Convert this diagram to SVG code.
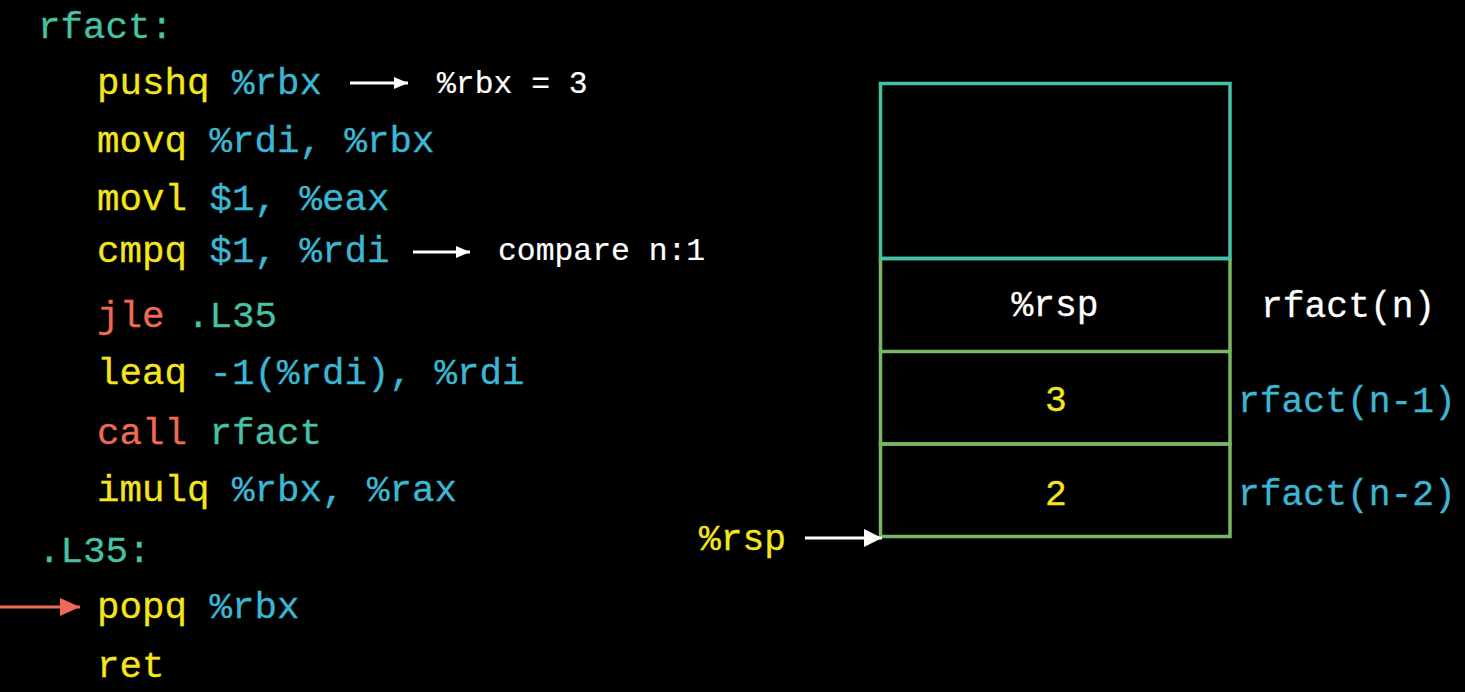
<svg xmlns="http://www.w3.org/2000/svg" width="1465" height="692" viewBox="0 0 1465 692">
  <style>
    .mono { font-family: "Liberation Mono", "DejaVu Sans Mono", monospace; }
    .code { font-size: 37.5px; stroke-width: 0.3px; }
    .note { font-size: 31.4px; stroke-width: 0.2px; }
    .cell { font-size: 36.3px; stroke-width: 0.3px; }
    .yel { fill: #f4e61c; stroke: #f4e61c; }
    .blu { fill: #3db6d3; stroke: #3db6d3; }
    .tea { fill: #48c1a4; stroke: #48c1a4; }
    .red { fill: #ee6a56; stroke: #ee6a56; }
    .wht { fill: #ffffff; stroke: #ffffff; }
    .frame-top { fill: none; stroke: #46c1a6; stroke-width: 3.5; }
    .frame { fill: none; stroke: #78b763; stroke-width: 3.5; }
    .arrow-w { stroke: #ffffff; stroke-width: 2.8; fill: none; }
    .arrow-r { stroke: #ee6a56; stroke-width: 3; fill: none; }
  </style>
  <defs>
    <marker id="head-small" markerUnits="userSpaceOnUse" viewBox="0 0 14 12" refX="14" refY="6" markerWidth="14" markerHeight="12" orient="auto">
      <path d="M0,0 L14,6 L0,12 Z" fill="#ffffff"/>
    </marker>
    <marker id="head-large" markerUnits="userSpaceOnUse" viewBox="0 0 18 18" refX="18" refY="9" markerWidth="18" markerHeight="18" orient="auto">
      <path d="M0,0 L18,9 L0,18 Z" fill="#ffffff"/>
    </marker>
    <marker id="head-red" markerUnits="userSpaceOnUse" viewBox="0 0 20 18" refX="20" refY="9" markerWidth="20" markerHeight="18" orient="auto">
      <path d="M0,0 L20,9 L0,18 Z" fill="#ee6a56"/>
    </marker>
  </defs>

  <rect x="0" y="0" width="1465" height="692" fill="#000000"/>

  <!-- assembly listing of rfact -->
  <g id="code" class="mono code">
    <text x="38" y="38" class="tea">rfact:</text>
    <text x="97" y="94"><tspan class="yel">pushq</tspan> <tspan class="blu">%rbx</tspan></text>
    <text x="97" y="152"><tspan class="yel">movq</tspan> <tspan class="blu">%rdi, %rbx</tspan></text>
    <text x="97" y="210"><tspan class="yel">movl</tspan> <tspan class="blu">$1, %eax</tspan></text>
    <text x="97" y="262"><tspan class="yel">cmpq</tspan> <tspan class="blu">$1, %rdi</tspan></text>
    <text x="97" y="327"><tspan class="red">jle</tspan> <tspan class="tea">.L35</tspan></text>
    <text x="97" y="384"><tspan class="yel">leaq</tspan> <tspan class="blu">-1(%rdi), %rdi</tspan></text>
    <text x="97" y="444"><tspan class="red">call</tspan> <tspan class="tea">rfact</tspan></text>
    <text x="97" y="501"><tspan class="yel">imulq</tspan> <tspan class="blu">%rbx, %rax</tspan></text>
    <text x="38" y="562" class="tea">.L35:</text>
    <text x="97" y="618"><tspan class="yel">popq</tspan> <tspan class="blu">%rbx</tspan></text>
    <text x="97" y="677" class="yel">ret</text>
  </g>

  <!-- side notes -->
  <g id="note-rbx" class="mono note wht">
    <text x="437" y="93">%rbx = 3</text>
  </g>
  <g id="note-compare" class="mono note wht">
    <text x="498" y="260">compare n:1</text>
  </g>

  <!-- stack frames -->
  <g id="stack-top">
    <rect x="880.5" y="83.5" width="349.5" height="175" class="frame-top"/>
  </g>
  <g id="stack-rsp">
    <path d="M880.5,258.5 V351.5 M1230,258.5 V351.5" class="frame"/>
    <text x="1055" y="316" text-anchor="middle" class="mono cell wht">%rsp</text>
  </g>
  <g id="stack-3">
    <rect x="880.5" y="351.5" width="349.5" height="92.5" class="frame"/>
    <text x="1056" y="411" text-anchor="middle" class="mono cell yel">3</text>
  </g>
  <g id="stack-2">
    <rect x="880.5" y="444" width="349.5" height="92.5" class="frame"/>
    <text x="1056" y="505" text-anchor="middle" class="mono cell yel">2</text>
  </g>
  <path d="M880.5,258.5 H1230" class="frame-top"/>

  <!-- frame labels -->
  <g id="label-n" class="mono cell wht">
    <text x="1261" y="317">rfact(n)</text>
  </g>
  <g id="label-n1" class="mono cell blu">
    <text x="1238" y="412">rfact(n-1)</text>
  </g>
  <g id="label-n2" class="mono cell blu">
    <text x="1238" y="505">rfact(n-2)</text>
  </g>
  <g id="label-rsp" class="mono cell yel">
    <text x="699" y="550">%rsp</text>
  </g>

  <!-- connectors -->
  <g id="connectors">
    <line x1="350" y1="83" x2="408" y2="83" class="arrow-w" marker-end="url(#head-small)"/>
    <line x1="413" y1="252" x2="470" y2="252" class="arrow-w" marker-end="url(#head-small)"/>
    <line x1="805" y1="538" x2="882" y2="538" class="arrow-w" marker-end="url(#head-large)"/>
    <line x1="0" y1="607" x2="80" y2="607" class="arrow-r" marker-end="url(#head-red)"/>
  </g>
</svg>
